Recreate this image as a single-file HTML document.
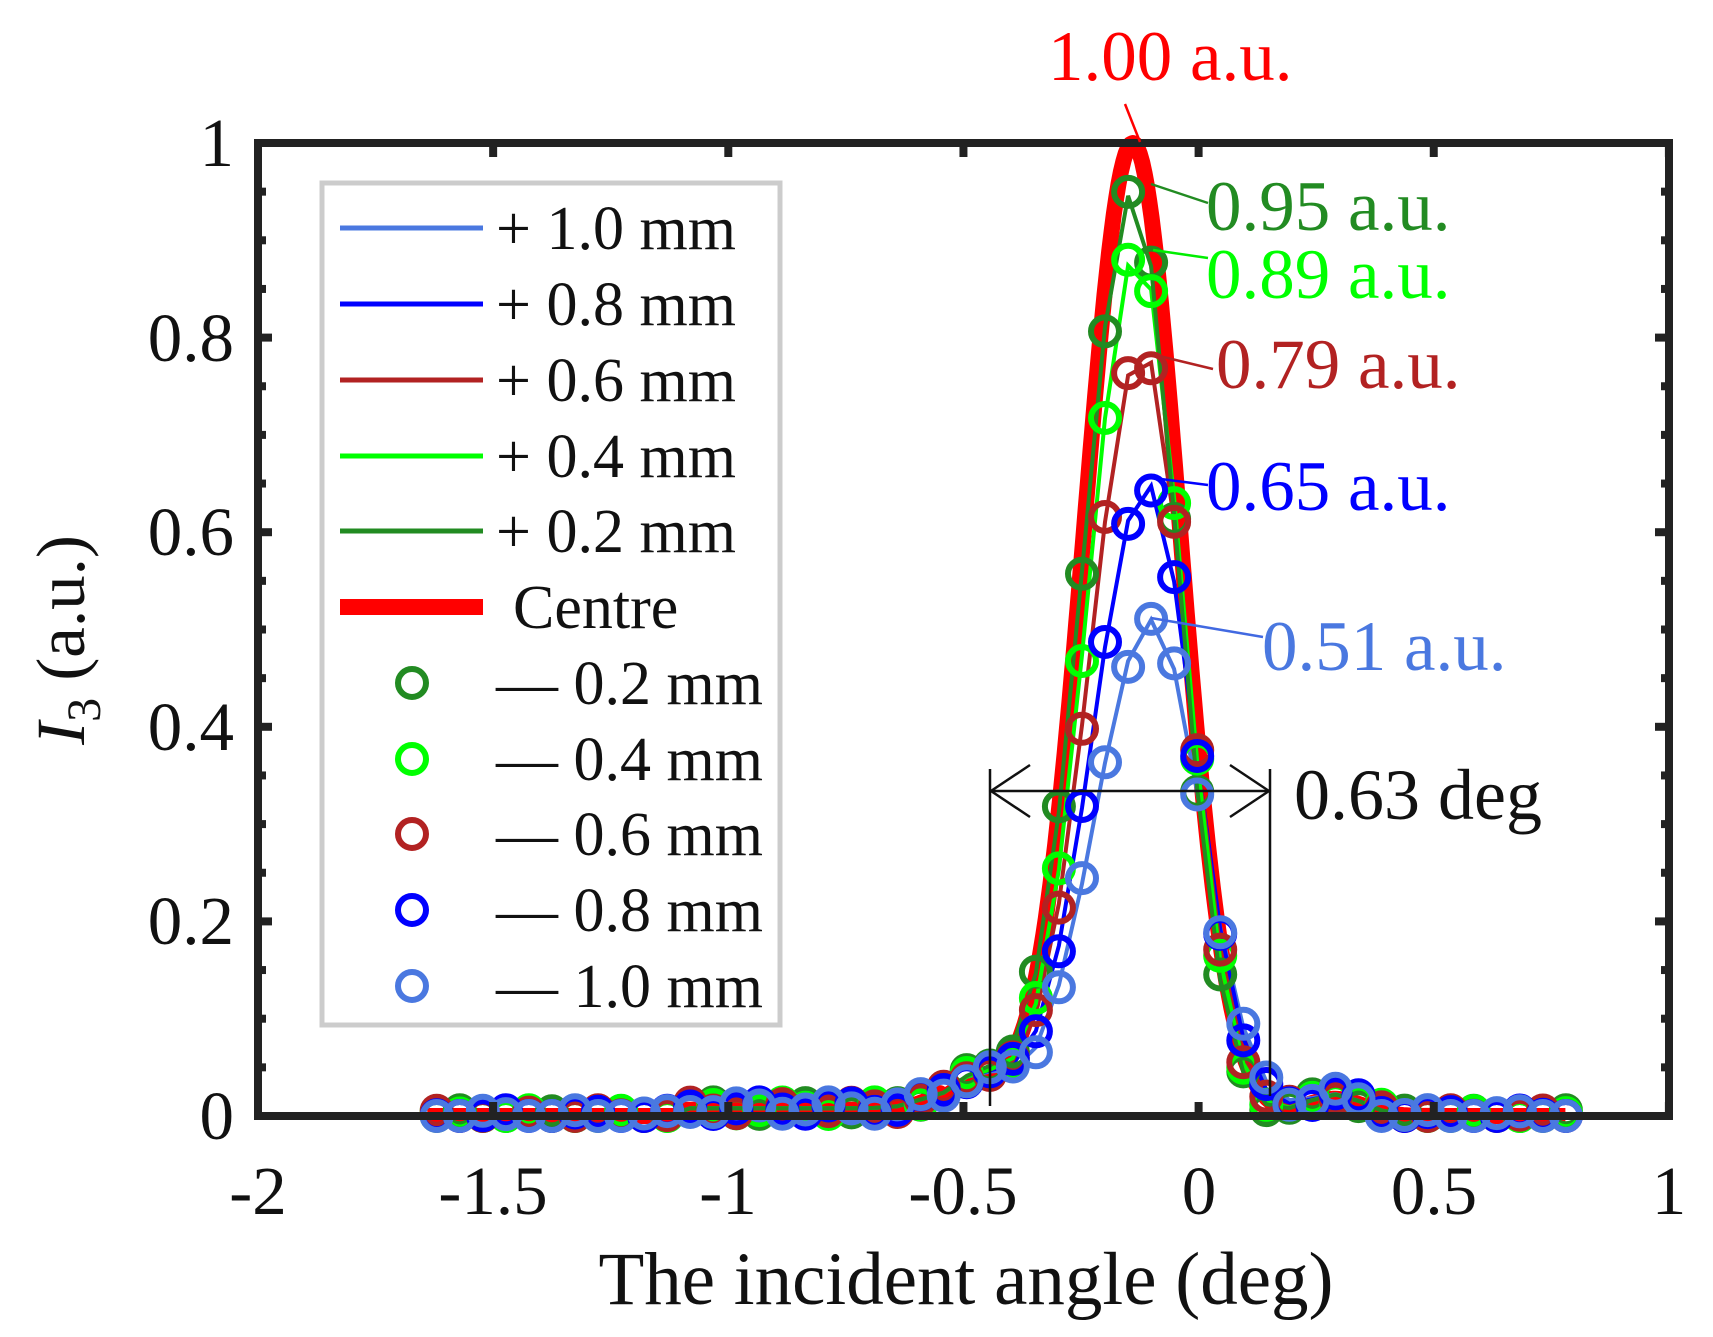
<!DOCTYPE html>
<html><head><meta charset="utf-8">
<style>
html,body{margin:0;padding:0;background:#fff;}
svg{display:block;}
text{font-family:"Liberation Serif",serif;}
</style></head>
<body>
<svg id="s" width="1713" height="1337" viewBox="0 0 1713 1337" xmlns="http://www.w3.org/2000/svg">
<rect width="1713" height="1337" fill="#fff"/>
<g id="plot"></g>
<rect x="258" y="143" width="1411" height="973" fill="none" stroke="#222" stroke-width="8"/>
<g id="ticks" stroke="#222" stroke-width="8"></g>
<g font-size="69" fill="#111" text-anchor="end">
<text x="234" y="1139">0</text>
<text x="234" y="944">0.2</text>
<text x="234" y="750">0.4</text>
<text x="234" y="555">0.6</text>
<text x="234" y="361">0.8</text>
<text x="234" y="166">1</text>
</g>
<g font-size="69" fill="#111" text-anchor="middle">
<text x="258" y="1214">-2</text>
<text x="493" y="1214">-1.5</text>
<text x="728" y="1214">-1</text>
<text x="963" y="1214">-0.5</text>
<text x="1199" y="1214">0</text>
<text x="1434" y="1214">0.5</text>
<text x="1669" y="1214">1</text>
</g>
<text x="966" y="1304" font-size="75" text-anchor="middle" fill="#111">The incident angle (deg)</text>
<text transform="translate(84,640) rotate(-90)" font-size="69" text-anchor="middle" fill="#111"><tspan font-style="italic">I</tspan><tspan font-size="48" dy="16">3</tspan><tspan dy="-16"> (a.u.)</tspan></text>

<g stroke="#111" stroke-width="2.5" fill="none">
<line x1="990" y1="769" x2="990" y2="1106"/>
<line x1="1270" y1="769" x2="1270" y2="1096"/>
<line x1="990" y1="791" x2="1270" y2="791"/>
<polyline points="1030,765 991,791 1030,817"/>
<polyline points="1230,765 1269,791 1230,817"/>
</g>
<text x="1294" y="819" font-size="72" fill="#111">0.63 deg</text>

<g stroke-width="2.5">
<line x1="1125" y1="104" x2="1140" y2="142" stroke="#ff0000"/>
<line x1="1151" y1="184" x2="1208" y2="203" stroke="#228b22"/>
<line x1="1153" y1="250" x2="1208" y2="258" stroke="#00ee00"/>
<line x1="1151" y1="354" x2="1213" y2="369" stroke="#b22222"/>
<line x1="1153" y1="478" x2="1208" y2="485" stroke="#0000ff"/>
<line x1="1151" y1="618" x2="1263" y2="637" stroke="#4169e1"/>
</g>
<g font-size="71">
<text x="1048" y="80" fill="#ff0000">1.00 a.u.</text>
<text x="1206" y="230" fill="#228b22">0.95 a.u.</text>
<text x="1206" y="298" fill="#00ff00">0.89 a.u.</text>
<text x="1216" y="388" fill="#b22222">0.79 a.u.</text>
<text x="1206" y="510" fill="#0000ff">0.65 a.u.</text>
<text x="1262" y="670" fill="#4a78e0">0.51 a.u.</text>
</g>

<rect x="322" y="183" width="458" height="842" fill="#fff" stroke="#cccccc" stroke-width="5"/>
<g stroke-width="5">
<line x1="340" y1="228" x2="483" y2="228" stroke="#4a78e0"/>
<line x1="340" y1="304" x2="483" y2="304" stroke="#0000ff"/>
<line x1="340" y1="380" x2="483" y2="380" stroke="#b22222"/>
<line x1="340" y1="456" x2="483" y2="456" stroke="#00ff00"/>
<line x1="340" y1="531" x2="483" y2="531" stroke="#228b22"/>
<line x1="340" y1="607" x2="483" y2="607" stroke="#ff0000" stroke-width="16"/>
</g>
<g fill="none" stroke-width="6">
<circle cx="412" cy="683" r="14" stroke="#228b22"/>
<circle cx="412" cy="759" r="14" stroke="#00ff00"/>
<circle cx="412" cy="834" r="14" stroke="#b22222"/>
<circle cx="412" cy="910" r="14" stroke="#0000ff"/>
<circle cx="412" cy="986" r="14" stroke="#4a78e0"/>
</g>
<g font-size="62" fill="#111">
<text x="496" y="249">+ 1.0 mm</text>
<text x="496" y="325">+ 0.8 mm</text>
<text x="496" y="401">+ 0.6 mm</text>
<text x="496" y="477">+ 0.4 mm</text>
<text x="496" y="552">+ 0.2 mm</text>
<text x="513" y="628">Centre</text>
<text x="496" y="704">— 0.2 mm</text>
<text x="496" y="780">— 0.4 mm</text>
<text x="496" y="855">— 0.6 mm</text>
<text x="496" y="931">— 0.8 mm</text>
<text x="496" y="1007">— 1.0 mm</text>
</g>
</svg>
<script>
(function(){
var NS="http://www.w3.org/2000/svg";
function X(v){return 258+(v+2)*470.3;}
function Y(v){return 1116-v*973;}
function el(t,a,p){var e=document.createElementNS(NS,t);for(var k in a)e.setAttribute(k,a[k]);p.appendChild(e);return e;}
var T=document.getElementById('ticks');
for(var v=-2;v<=1.001;v+=0.5){var x=X(v);el('line',{x1:x,y1:1116,x2:x,y2:1102},T);el('line',{x1:x,y1:143,x2:x,y2:157},T);}
for(var v=0;v<=1.001;v+=0.05){var y=Y(v);var L=(Math.abs(v*5-Math.round(v*5))<1e-6)?14:8;el('line',{x1:258,y1:y,x2:258+L,y2:y},T);el('line',{x1:1669,y1:y,x2:1669-L,y2:y},T);}
function base(x){
 var b=0.04*Math.exp(-Math.pow((x+0.47)/0.07,2)/2)+0.022*Math.exp(-Math.pow((x-0.29)/0.06,2)/2);
 if(x>-1.1&&x<-0.55)b+=0.008;
 return b;}
function pk(x,A,c,sl,sr){var s=x<c?sl:sr;return A*Math.exp(-Math.pow((x-c)/s,2)/2);}
var P=document.getElementById('plot');
var d="";for(var x=-1.64;x<=0.78;x+=0.005){var y=pk(x,1,-0.14,0.103,0.1)+base(x)*0.8;d+=(d?"L":"M")+X(x).toFixed(1)+","+Y(y).toFixed(1);}
el('path',{d:d,fill:"none",stroke:"#ff0000","stroke-width":16,"stroke-linejoin":"round"},P);
var S=[
 {A:0.95,c:-0.14,sl:0.105,sr:0.095,col:"#228b22"},
 {A:0.89,c:-0.13,sl:0.105,sr:0.095,col:"#00ff00"},
 {A:0.79,c:-0.12,sl:0.11,sr:0.095,col:"#b22222"},
 {A:0.65,c:-0.11,sl:0.115,sr:0.1,col:"#0000ff"},
 {A:0.51,c:-0.10,sl:0.12,sr:0.105,col:"#4a78e0"}];
var xs=[];for(var x=-1.62;x<=0.79;x+=0.049)xs.push(x);
S.slice().reverse().forEach(function(s){
 var d="";xs.forEach(function(x){var y=pk(x,s.A,s.c,s.sl,s.sr)+base(x);d+=(d?"L":"M")+X(x).toFixed(1)+","+Y(y).toFixed(1);});
 el('path',{d:d,fill:"none",stroke:s.col,"stroke-width":4},P);});
S.forEach(function(s,i){
 xs.forEach(function(x,j){var y=pk(x,s.A,s.c,s.sl,s.sr)+base(x)+0.006*Math.sin(j*1.7+i);if(y<0)y=0;
  el('circle',{cx:X(x).toFixed(1),cy:Y(y).toFixed(1),r:14,fill:"none",stroke:s.col,"stroke-width":6},P);});});
})();
</script>
</body></html>
